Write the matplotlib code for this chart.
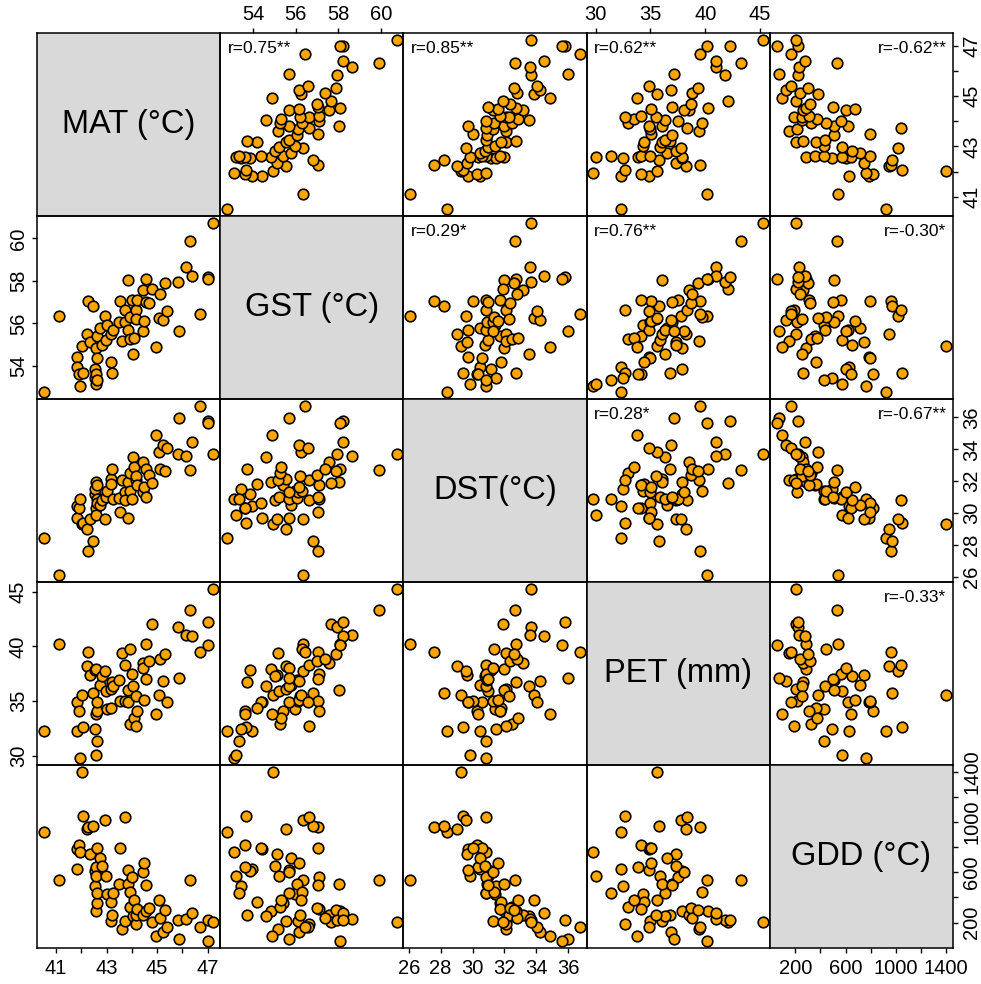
import matplotlib
matplotlib.use('Agg')
import matplotlib.pyplot as plt
import numpy as np

plt.rcParams['font.family'] = ['Liberation Sans', 'DejaVu Sans']

labels = ['MAT (°C)', 'GST (°C)', 'DST(°C)', 'PET (mm)', 'GDD (°C)']

# one row per site
mat = [40.51, 41.11, 41.81, 41.81, 41.92, 41.94, 42.03, 42.05,
       42.23, 42.25, 42.34, 42.45, 42.55, 42.55, 42.58, 42.58, 42.58, 42.61, 42.61, 42.63,
       42.74, 42.80, 42.94, 42.98, 43.00, 43.16, 43.16, 43.22, 43.27, 43.47, 43.51, 43.62, 43.71, 43.73,
       43.83, 43.83, 43.91, 43.93, 44.00, 44.04, 44.09, 44.17, 44.17, 44.20, 44.44, 44.44, 44.49, 44.54, 44.57,
       44.68, 44.81, 44.94, 45.06, 45.13, 45.24, 45.32, 45.39, 45.83, 45.87, 46.14, 46.32, 46.40, 46.68, 47.00, 47.00, 47.23]
gst = [52.77, 56.33, 54.41, 53.95, 53.61, 53.08, 54.92, 53.67,
       55.52, 57.05, 55.11, 56.80, 53.86, 53.44, 54.83, 53.61, 53.17, 55.39, 53.33, 54.38,
       55.78, 55.00, 56.33, 55.23, 55.94, 55.52, 54.17, 53.69, 55.70, 56.05, 57.06, 55.16, 56.09, 56.64,
       58.02, 55.67, 55.27, 56.30, 57.11, 54.58, 55.31, 56.64, 56.20, 57.11, 57.58, 55.66, 56.13, 58.08, 57.02,
       56.98, 57.64, 54.89, 56.25, 57.39, 56.14, 57.89, 56.58, 57.95, 55.66, 58.64, 59.89, 58.22, 56.44, 58.20, 58.08, 60.73]
dst = [28.42, 26.09, 29.71, 30.45, 30.28, 30.87, 29.30, 29.40,
       29.02, 27.60, 29.65, 28.23, 31.18, 31.50, 31.95, 30.34, 29.86, 31.75, 30.87, 30.60,
       30.50, 30.80, 29.61, 31.00, 31.40, 32.12, 31.80, 32.75, 30.87, 30.91, 30.03, 32.08, 31.29, 30.82,
       31.95, 29.69, 32.50, 31.37, 30.87, 33.53, 32.86, 32.08, 32.30, 31.75, 33.17, 31.29, 31.60, 32.75, 31.00,
       32.37, 31.91, 34.89, 33.84, 32.79, 34.26, 32.63, 34.05, 33.69, 35.97, 33.59, 32.67, 34.47, 36.73, 35.77, 35.64, 33.69]
pet = [32.32, 40.18, 34.91, 32.32, 34.09, 29.79, 35.61, 32.65,
       38.26, 39.48, 37.35, 35.76, 37.84, 32.50, 37.90, 33.87, 30.06, 34.09, 31.40, 34.94,
       36.52, 37.29, 37.74, 35.91, 34.33, 36.07, 34.39, 36.74, 36.37, 36.92, 35.03, 39.42, 35.00, 38.35,
       36.01, 34.91, 32.93, 39.73, 37.50, 36.37, 33.50, 32.71, 35.50, 34.09, 38.50, 38.02, 35.09, 40.24, 37.00,
       38.66, 42.07, 33.81, 35.61, 38.81, 36.89, 39.30, 34.91, 41.77, 37.16, 41.01, 43.29, 40.95, 39.48, 42.23, 40.12, 45.27]
gdd = [919, 540, 787, 628, 818, 760, 1401, 1046,
       946, 964, 747, 967, 607, 490, 289, 641, 570, 358, 432, 795,
       713, 649, 1020, 570, 429, 209, 363, 262, 437, 509, 792, 146, 215, 1044,
       506, 620, 323, 442, 560, 252, 376, 191, 257, 305, 262, 601, 676, 289, 501,
       315, 204, 93, 382, 236, 125, 300, 162, 220, 72, 231, 535, 278, 165, 220, 51, 204]

r_text = {(0, 1): 'r=0.75**', (0, 2): 'r=0.85**', (0, 3): 'r=0.62**', (0, 4): 'r=-0.62**',
          (1, 2): 'r=0.29*', (1, 3): 'r=0.76**', (1, 4): 'r=-0.30*',
          (2, 3): 'r=0.28*', (2, 4): 'r=-0.67**',
          (3, 4): 'r=-0.33*'}

tick_pos = [[41, 42, 43, 44, 45, 46, 47], [54, 56, 58, 60], [26, 28, 30, 32, 34, 36],
            [30, 35, 40, 45], [200, 400, 600, 800, 1000, 1200, 1400]]
tick_lab = [['41', '', '43', '', '45', '', '47'], ['54', '56', '58', '60'],
            ['26', '28', '30', '32', '34', '36'], ['30', '35', '40', '45'],
            ['200', '', '600', '', '1000', '', '1400']]

data = [np.array(v, float) for v in (mat, gst, dst, pet, gdd)]
lims = []
for v in data:
    r = v.max() - v.min()
    lims.append((v.min() - 0.04 * r, v.max() + 0.04 * r))

n = 5
fig, axes = plt.subplots(n, n, figsize=(9.81, 9.84), dpi=100)
fig.subplots_adjust(left=37/981, right=953/981, bottom=1-948/984, top=1-33/984,
                    wspace=0, hspace=0)

for i in range(n):
    for j in range(n):
        ax = axes[i, j]
        ax.set_xlim(lims[j])
        ax.set_ylim(lims[i])
        ax.set_facecolor('none')
        for s in ax.spines.values():
            s.set_linewidth(1.1)
            s.set_color('black')
        ax.tick_params(which='both', bottom=False, top=False, left=False, right=False,
                       labelbottom=False, labeltop=False, labelleft=False, labelright=False,
                       length=3.5, width=1.0, labelsize=14.5, pad=3, colors='black')
        ax.set_xticks(tick_pos[j])
        ax.set_xticklabels(tick_lab[j])
        ax.set_yticks(tick_pos[i])
        ax.set_yticklabels(tick_lab[i])
        ax.tick_params(axis='y', labelrotation=90)

        if i == j:
            ax.set_facecolor('#d9d9d9')
            ax.text(0.5, 0.5, labels[i], transform=ax.transAxes, ha='center', va='center',
                    fontsize=23.5)
        else:
            ax.scatter(data[j], data[i], s=58, c='#FFA500', edgecolors='black',
                       linewidths=1.2, clip_on=False, zorder=3)
            if (i, j) in r_text:
                t = r_text[(i, j)]
                if '-' in t:
                    ax.text(0.965, 0.955, t, transform=ax.transAxes, ha='right', va='top',
                            fontsize=12.5, zorder=4)
                else:
                    ax.text(0.04, 0.955, t, transform=ax.transAxes, ha='left', va='top',
                            fontsize=12.5, zorder=4)

        # axes alternate sides like R's pairs()
        if i == n - 1 and j % 2 == 0:
            ax.tick_params(axis='x', bottom=True, labelbottom=True, pad=4.5)
        if i == 0 and j % 2 == 1:
            ax.tick_params(axis='x', top=True, labeltop=True)
        if j == 0 and i % 2 == 1:
            ax.tick_params(axis='y', left=True, labelleft=True)
            for lb in ax.get_yticklabels():
                lb.set_va('center')
        if j == n - 1 and i % 2 == 0:
            ax.tick_params(axis='y', right=True, labelright=True)
            for lb in ax.get_yticklabels():
                lb.set_va('center')

fig.savefig('out.png', dpi=100)
